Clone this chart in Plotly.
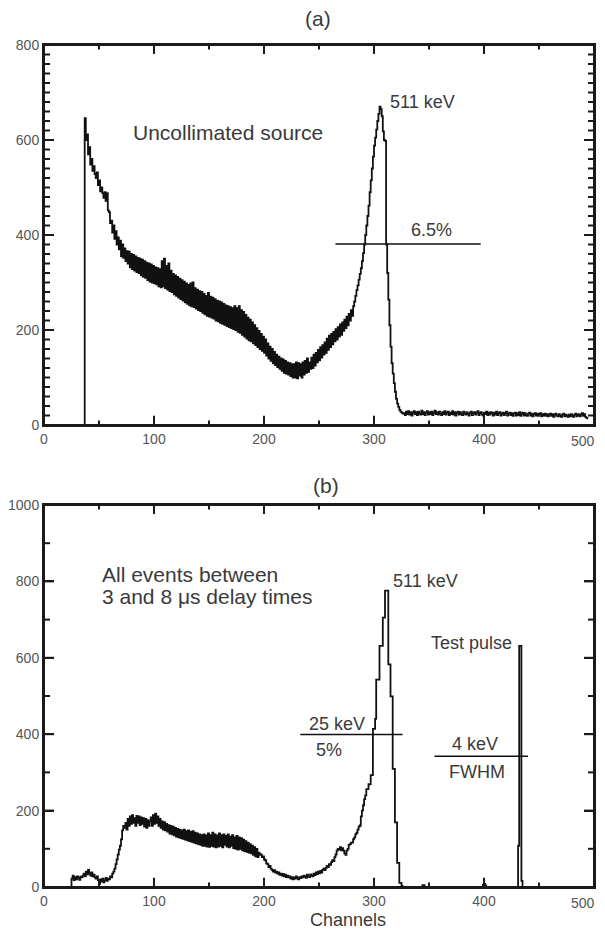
import plotly.graph_objects as go

# ---------------- Panel (a): uncollimated source ----------------
a_start = 36  # first channel of a_counts
a_counts = [
    0,
    646, 600, 612, 570, 585, 548, 560, 535, 545, 528,
    520, 532, 505, 515, 492, 500, 488, 478, 490, 472,
    488, 452, 448, 425, 430, 405, 420, 392, 408, 380,
    395, 370, 388, 355, 380, 352, 372, 345, 366, 340,
    365, 332, 360, 328, 358, 325, 355, 322, 352, 320,
    350, 315, 348, 312, 345, 310, 342, 305, 340, 302,
    338, 300, 335, 298, 332, 296, 330, 292, 328, 290,
    345, 292, 350, 288, 335, 285, 340, 282, 325, 280,
    318, 275, 315, 272, 312, 268, 308, 265, 305, 262,
    302, 258, 298, 255, 295, 252, 298, 250, 300, 248,
    288, 245, 285, 242, 282, 240, 280, 236, 276, 233,
    272, 230, 278, 228, 270, 226, 268, 224, 265, 220,
    262, 218, 260, 215, 258, 213, 255, 211, 252, 208,
    250, 206, 248, 204, 246, 202, 250, 200, 246, 196,
    250, 194, 242, 190, 238, 186, 232, 182, 226, 178,
    222, 176, 216, 172, 210, 168, 204, 164, 198, 160,
    192, 156, 186, 152, 180, 146, 172, 140, 165, 135,
    160, 130, 154, 126, 148, 122, 144, 118, 140, 114,
    138, 110, 135, 108, 132, 106, 130, 103, 128, 100,
    128, 100, 132, 98, 130, 104, 128, 100, 132, 106,
    135, 110, 140, 112, 132, 118, 142, 120, 148, 125,
    152, 132, 158, 136, 164, 142, 168, 148, 174, 152,
    182, 158, 188, 164, 192, 170, 196, 176, 202, 180,
    206, 186, 212, 190, 216, 198, 222, 204, 228, 210,
    234, 220, 242, 230, 250, 260, 272, 284, 294, 306,
    318, 330, 345, 362, 380, 400, 420, 440, 462, 490,
    515, 540, 565, 588, 605, 622, 640, 655, 670, 665,
    650, 618, 600, 598, 380, 320, 264, 210, 165, 130,
    108, 88, 70, 55, 45, 38, 32, 28, 26, 24,
    25, 21, 28, 23, 29, 22, 27, 20, 26, 29,
    23, 27, 21, 28, 24, 22, 30, 23, 27, 21,
    26, 29, 22, 27, 23, 28, 21, 26, 30, 23,
    27, 22, 28, 24, 21, 27, 23, 29, 22, 26,
    28, 21, 26, 23, 29, 22, 27, 20, 26, 28,
    22, 27, 23, 21, 28, 24, 22, 27, 23, 20,
    26, 28, 21, 25, 27, 22, 26, 29, 21, 25,
    27, 22, 20, 26, 23, 28, 21, 26, 22, 27,
    25, 20, 26, 22, 28, 21, 25, 27, 20, 24,
    26, 21, 25, 28, 20, 24, 26, 21, 25, 19,
    24, 26, 20, 25, 21, 27, 19, 24, 26, 20,
    25, 21, 19, 24, 26, 20, 24, 18, 23, 25,
    20, 24, 19, 23, 25, 18, 23, 20, 24, 19,
    23, 18, 22, 24, 19, 23, 17, 22, 24, 19,
    18, 23, 19, 17, 22, 24, 18, 22, 19, 17,
    22, 18, 23, 19, 17, 22, 24, 18, 21, 23,
    18, 22, 25, 19, 23, 17, 15, 12,
]
a_fwhm_x = [265, 397]
a_fwhm_y = [381, 381]

# ---------------- Panel (b): events between 3 and 8 us ----------------
b_start = 24
b_counts = [
    0,
    22, 30, 18, 26, 20, 28, 24, 19, 27, 25,
    30, 35, 28, 40, 33, 45, 36, 30, 38, 28,
    32, 25, 22, 28, 18, 8, 20, 14, 22, 12,
    18, 24, 16, 22, 20, 28, 25, 35, 40, 48,
    60, 72, 85, 98, 108, 125, 148, 160, 155, 168,
    150, 178, 160, 185, 165, 188, 168, 180, 160, 186,
    168, 185, 162, 182, 165, 180, 158, 178, 155, 175,
    160, 172, 182, 160, 188, 165, 192, 168, 185, 160,
    178, 155, 172, 150, 170, 148, 165, 145, 162, 140,
    160, 138, 158, 135, 155, 132, 152, 130, 150, 128,
    148, 126, 150, 124, 146, 122, 148, 120, 144, 118,
    146, 116, 142, 114, 140, 112, 138, 110, 136, 108,
    138, 108, 135, 106, 140, 105, 136, 108, 142, 106,
    138, 104, 135, 106, 140, 108, 136, 104, 138, 110,
    134, 106, 138, 104, 132, 108, 136, 102, 130, 100,
    134, 98, 130, 100, 128, 96, 124, 94, 120, 92,
    116, 90, 112, 88, 108, 84, 104, 80, 100, 78,
    90, 84, 85, 78, 80, 72, 70, 62, 60, 52,
    55, 48, 45, 40, 44, 38, 40, 35, 38, 32,
    35, 30, 34, 28, 32, 26, 30, 25, 28, 22,
    26, 20, 25, 22, 28, 24, 20, 26, 23, 28,
    25, 30, 27, 24, 32, 28, 26, 33, 30, 28,
    35, 31, 38, 34, 40, 36, 42, 38, 45, 48,
    44, 50, 55, 52, 60, 58, 65, 70, 68, 78,
    85, 95, 100, 98, 104, 96, 102, 95, 88, 84,
    95, 100,
    110, 112, 116, 116, 125, 130, 138, 142, 150, 158,
    161, 185, 200, 214, 230, 240, 256, 256, 269, 269,
    293, 293, 414, 414, 440, 543, 543, 543, 631, 631,
    631, 705, 705, 776, 776, 776, 583, 583, 499, 499,
    309, 309, 169, 169, 63, 63, 11, 11, 3, 0,
]
# sparse tail (step values hold until the next channel)
b_tail_ch = [344, 346, 399, 400, 401, 402, 431, 432, 434, 435, 437]
b_tail_counts = [5, 0, 6, 8, 4, 0, 108, 631, 16, 0, 0]
b_fwhm_x = [233, 326]
b_fwhm_y = [399, 399]
b_tp_x = [355, 440]
b_tp_y = [342, 342]

# tick positions
x_ticks = [0, 100, 200, 300, 400, 500]
x_tick_labels = ["0", "100", "200", "300", "400", ""]
x_minor_ticks = [50, 150, 250, 350, 450]
a_y_ticks = [0, 200, 400, 600, 800]
a_y_minor_step = 20
b_y_ticks = [0, 200, 400, 600, 800, 1000]
b_y_minor_step = 100

a_x = list(range(a_start, a_start + len(a_counts)))
b_x = list(range(b_start, b_start + len(b_counts))) + b_tail_ch
b_y = b_counts + b_tail_counts

FONT = "Liberation Sans"
INK = "#111111"
TXT = "#3a3a3a"
FRAME = "#1a1a1a"

fig = go.Figure()

fig.add_trace(go.Scatter(x=a_x, y=a_counts, mode="lines", line=dict(color=INK, width=1.8, shape="hv"),
                         xaxis="x", yaxis="y", showlegend=False))
fig.add_trace(go.Scatter(x=a_fwhm_x, y=a_fwhm_y, mode="lines", line=dict(color=INK, width=1.5),
                         xaxis="x", yaxis="y", showlegend=False))
fig.add_trace(go.Scatter(x=b_x, y=b_y, mode="lines", line=dict(color=INK, width=1.8, shape="hv"),
                         xaxis="x2", yaxis="y2", showlegend=False))
fig.add_trace(go.Scatter(x=b_fwhm_x, y=b_fwhm_y, mode="lines", line=dict(color=INK, width=1.5),
                         xaxis="x2", yaxis="y2", showlegend=False))
fig.add_trace(go.Scatter(x=b_tp_x, y=b_tp_y, mode="lines", line=dict(color=INK, width=1.5),
                         xaxis="x2", yaxis="y2", showlegend=False))


def xax(anchor):
    return dict(anchor=anchor, range=[0, 500], tickvals=x_ticks, ticktext=x_tick_labels,
                showline=True, linecolor=FRAME, linewidth=2, mirror="ticks",
                ticks="inside", ticklen=9, tickwidth=2, tickcolor=FRAME,
                showgrid=False, zeroline=False, automargin=False,
                tickfont=dict(family=FONT, size=14, color="#555555"))


def yax(anchor, domain, top, ticks):
    return dict(anchor=anchor, domain=domain, range=[0, top], tickvals=ticks,
                showline=True, linecolor=FRAME, linewidth=2, mirror="ticks",
                ticks="inside", ticklen=10, tickwidth=2, tickcolor=FRAME,
                showgrid=False, zeroline=False, automargin=False,
                tickfont=dict(family=FONT, size=14, color="#555555"))


# page body has an 8px default margin, so the figure is 16px smaller than the window
fig.update_layout(
    width=589, height=924,
    margin=dict(l=36, r=3, t=37, b=45),
    plot_bgcolor="white", paper_bgcolor="white",
    xaxis=xax("y"), yaxis=yax("x", [0.5487, 1.0], 800, a_y_ticks),
    xaxis2=xax("y2"), yaxis2=yax("x2", [0.0, 0.4537], 1000, b_y_ticks),
)

# frame boxes and tick marks, placed with the axes' own scales
shapes = []
line_style = dict(color=FRAME, width=2)
for xa, ya in (("x", "y"), ("x2", "y2")):
    shapes.append(dict(type="rect", xref=xa + " domain", yref=ya + " domain", x0=0, x1=1, y0=0, y1=1,
                       line=line_style, layer="above"))
    for v in x_ticks[1:-1]:
        for y0, y1 in ((0, 0.024), (1, 0.986)):
            shapes.append(dict(type="line", xref=xa, yref=ya + " domain", x0=v, x1=v, y0=y0, y1=y1,
                               line=line_style))
    for v in x_minor_ticks:
        for y0, y1 in ((0, 0.012), (1, 0.988)):
            shapes.append(dict(type="line", xref=xa, yref=ya + " domain", x0=v, x1=v, y0=y0, y1=y1,
                               line=line_style))

for ya, xa, top, major, step in (("y", "x", 800, a_y_ticks, a_y_minor_step),
                                 ("y2", "x2", 1000, b_y_ticks, b_y_minor_step)):
    v = step
    while v < top:
        ln = 0.018 if v in major else 0.011
        for x0, x1 in ((0, ln), (1, 1 - ln)):
            shapes.append(dict(type="line", xref=xa + " domain", yref=ya, x0=x0, x1=x1, y0=v, y1=v,
                               line=line_style))
        v += step
fig.update_layout(shapes=shapes)

big = dict(family=FONT, size=21, color=TXT)
small = dict(family=FONT, size=18, color=TXT)
tickf = dict(family=FONT, size=14, color="#555555")


def A(text, x, y, xref, yref, font, xanchor="center", yanchor="middle"):
    return dict(text=text, x=x, y=y, xref=xref, yref=yref, xanchor=xanchor, yanchor=yanchor,
                showarrow=False, font=font)


ann = [
    A("(a)", 0.498, 1.032, "paper", "paper", big),
    A("(b)", 0.513, 0.4774, "paper", "paper", big),
    A("Channels", 0.553, -0.039, "paper", "paper", small),
    A("Uncollimated source", 79, 615, "x", "y", big, "left"),
    A("511 keV", 313, 680, "x", "y", small, "left"),
    A("6.5%", 352, 410, "x", "y", small),
    A("All events between", 51, 818, "x2", "y2", big, "left"),
    A("3 and 8 μs delay times", 51, 760, "x2", "y2", big, "left"),
    A("511 keV", 315, 802, "x2", "y2", small, "left"),
    A("Test pulse", 389, 638, "x2", "y2", small),
    A("25 keV", 266, 427, "x2", "y2", small),
    A("5%", 259, 359, "x2", "y2", small),
    A("4 keV", 392, 375, "x2", "y2", small),
    A("FWHM", 394, 302, "x2", "y2", small),
    # last x tick label, kept inside the page edge
    A("500", 1.0, -0.016, "x domain", "y domain", tickf, "right", "top"),
    A("500", 1.0, -0.016, "x2 domain", "y2 domain", tickf, "right", "top"),
]
for a in ann[-2:]:
    a["xshift"] = 3
fig.update_layout(annotations=ann)

fig.write_html("out.html")
